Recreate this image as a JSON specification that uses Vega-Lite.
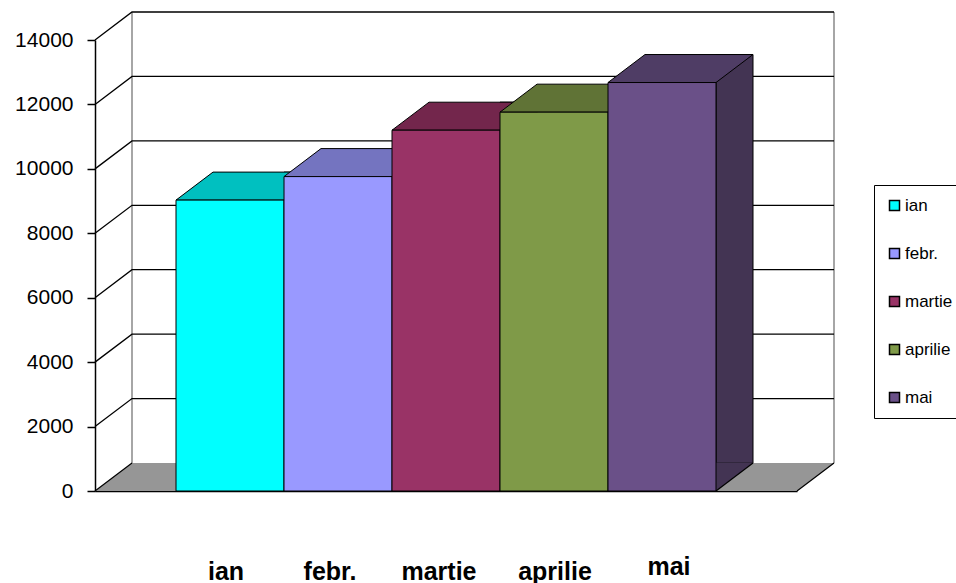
{
  "$schema": "https://vega.github.io/schema/vega-lite/v6.json",
  "width": 702,
  "height": 451,
  "autosize": {"type": "none"},
  "padding": {"left": 95, "top": 40, "right": 159, "bottom": 92},
  "background": "white",
  "config": {
    "view": {"stroke": null},
    "font": "Liberation Sans",
    "axisY": {"title": null, "grid": false, "domainColor": "black", "domainWidth": 1.5, "tickColor": "black", "tickSize": 8, "tickWidth": 1.5, "labelFontSize": 21, "labelColor": "black", "labelPadding": 14},
    "axisX": {"title": null, "grid": false, "domainColor": "black", "domainWidth": 1.5, "ticks": false, "tickSize": 0, "labelFontSize": 25, "labelFontWeight": "bold", "labelFont": "Liberation Sans", "labelColor": "black", "labelAngle": 0}
  },
  "datasets": {
    "months": [
      {"month": "ian", "value": 9030},
      {"month": "febr.", "value": 9760},
      {"month": "martie", "value": 11200},
      {"month": "aprilie", "value": 11760},
      {"month": "mai", "value": 12680}
    ],
    "grid": [
      {"value": 0}, {"value": 2000}, {"value": 4000}, {"value": 6000},
      {"value": 8000}, {"value": 10000}, {"value": 12000}, {"value": 14000}
    ]
  },
  "resolve": {"scale": {"color": "independent"}},
  "layer": [
    {
      "data": {"name": "grid"},
      "transform": [{"filter": "datum.value == 0"}],
      "mark": {"type": "point", "shape": "M-351,0L351,0L388,-28L-314,-28Z", "size": 4, "filled": true, "fill": "#969696", "strokeWidth": 0, "opacity": 1},
      "encoding": {"y": {"field": "value", "type": "quantitative", "scale": {"domain": [0, 14000], "nice": false}, "axis": {"values": [0, 2000, 4000, 6000, 8000, 10000, 12000, 14000], "format": "d"}}}
    },
    {
      "data": {"name": "grid"},
      "transform": [{"filter": "datum.value == 0"}],
      "mark": {"type": "point", "shape": "M-314,-28L-314,-479M388,-28L388,-479", "size": 4, "filled": false, "stroke": "#a6a6a6", "strokeWidth": 2, "opacity": 1},
      "encoding": {"y": {"field": "value", "type": "quantitative", "scale": {"domain": [0, 14000], "nice": false}, "axis": {"values": [0, 2000, 4000, 6000, 8000, 10000, 12000, 14000], "format": "d"}}}
    },
    {
      "data": {"name": "grid"},
      "transform": [{"filter": "datum.value > 0"}],
      "mark": {"type": "point", "shape": "M-351,0L-314,-28L388,-28", "size": 4, "filled": false, "stroke": "black", "strokeWidth": 1.3, "opacity": 1},
      "encoding": {"y": {"field": "value", "type": "quantitative", "scale": {"domain": [0, 14000], "nice": false}, "axis": {"values": [0, 2000, 4000, 6000, 8000, 10000, 12000, 14000], "format": "d"}}}
    },
    {
      "data": {"name": "grid"},
      "transform": [{"filter": "datum.value == 0"}],
      "mark": {"type": "point", "shape": "M-351,0L-314,-28M351,0L388,-28", "size": 4, "filled": false, "stroke": "black", "strokeWidth": 1.2, "opacity": 1},
      "encoding": {"y": {"field": "value", "type": "quantitative", "scale": {"domain": [0, 14000], "nice": false}, "axis": {"values": [0, 2000, 4000, 6000, 8000, 10000, 12000, 14000], "format": "d"}}}
    },
    {
      "data": {"name": "months"},
      "mark": {"type": "bar", "width": 37, "xOffset": 72.5, "yOffset": -28, "y2Offset": -28, "stroke": "black", "strokeWidth": 1},
      "encoding": {
        "x": {"field": "month", "type": "nominal", "sort": null, "scale": {"type": "band", "paddingInner": 0, "paddingOuter": 0.75},
          "axis": {"labelPadding": {"condition": {"test": "datum.value === 'mai'", "value": 63}, "value": 68}, "labelOffset": {"condition": [{"test": "datum.value === 'ian'", "value": -4}, {"test": "datum.value === 'febr.'", "value": -8}, {"test": "datum.value === 'martie'", "value": -7}, {"test": "datum.value === 'aprilie'", "value": 1}, {"test": "datum.value === 'mai'", "value": 7}], "value": 0}}},
        "y": {"field": "value", "type": "quantitative", "scale": {"domain": [0, 14000], "nice": false}, "axis": {"values": [0, 2000, 4000, 6000, 8000, 10000, 12000, 14000], "format": "d"}},
        "color": {"field": "month", "type": "nominal", "legend": null, "scale": {"domain": ["ian", "febr.", "martie", "aprilie", "mai"], "range": ["#00A0A0", "#6060A0", "#602040", "#506030", "#433453"]}}
      }
    },
    {
      "data": {"name": "months"},
      "mark": {"type": "point", "shape": "M54,0L54,-28.6L90.5,-28.6L91,-28Z", "size": 4, "filled": true, "strokeWidth": 0, "opacity": 1},
      "encoding": {
        "x": {"field": "month", "type": "nominal", "sort": null, "scale": {"type": "band", "paddingInner": 0, "paddingOuter": 0.75},
          "axis": {"labelPadding": {"condition": {"test": "datum.value === 'mai'", "value": 63}, "value": 68}, "labelOffset": {"condition": [{"test": "datum.value === 'ian'", "value": -4}, {"test": "datum.value === 'febr.'", "value": -8}, {"test": "datum.value === 'martie'", "value": -7}, {"test": "datum.value === 'aprilie'", "value": 1}, {"test": "datum.value === 'mai'", "value": 7}], "value": 0}}},
        "y": {"datum": 0, "type": "quantitative", "scale": {"domain": [0, 14000], "nice": false}, "axis": {"values": [0, 2000, 4000, 6000, 8000, 10000, 12000, 14000], "format": "d"}},
        "color": {"field": "month", "type": "nominal", "legend": null, "scale": {"domain": ["ian", "febr.", "martie", "aprilie", "mai"], "range": ["#00A0A0", "#6060A0", "#602040", "#506030", "#433453"]}}
      }
    },
    {
      "data": {"name": "months"},
      "mark": {"type": "point", "shape": "M54,0L91,-28", "size": 4, "filled": false, "stroke": "black", "strokeWidth": 1.2, "opacity": 1},
      "encoding": {
        "x": {"field": "month", "type": "nominal", "sort": null, "scale": {"type": "band", "paddingInner": 0, "paddingOuter": 0.75},
          "axis": {"labelPadding": {"condition": {"test": "datum.value === 'mai'", "value": 63}, "value": 68}, "labelOffset": {"condition": [{"test": "datum.value === 'ian'", "value": -4}, {"test": "datum.value === 'febr.'", "value": -8}, {"test": "datum.value === 'martie'", "value": -7}, {"test": "datum.value === 'aprilie'", "value": 1}, {"test": "datum.value === 'mai'", "value": 7}], "value": 0}}},
        "y": {"datum": 0, "type": "quantitative", "scale": {"domain": [0, 14000], "nice": false}, "axis": {"values": [0, 2000, 4000, 6000, 8000, 10000, 12000, 14000], "format": "d"}}
      }
    },
    {
      "data": {"name": "months"},
      "mark": {"type": "point", "shape": "M-54,0L54,0L91,-28L-17,-28Z", "size": 4, "filled": true, "stroke": "black", "strokeWidth": 1, "opacity": 1},
      "encoding": {
        "x": {"field": "month", "type": "nominal", "sort": null, "scale": {"type": "band", "paddingInner": 0, "paddingOuter": 0.75},
          "axis": {"labelPadding": {"condition": {"test": "datum.value === 'mai'", "value": 63}, "value": 68}, "labelOffset": {"condition": [{"test": "datum.value === 'ian'", "value": -4}, {"test": "datum.value === 'febr.'", "value": -8}, {"test": "datum.value === 'martie'", "value": -7}, {"test": "datum.value === 'aprilie'", "value": 1}, {"test": "datum.value === 'mai'", "value": 7}], "value": 0}}},
        "y": {"field": "value", "type": "quantitative", "scale": {"domain": [0, 14000], "nice": false}, "axis": {"values": [0, 2000, 4000, 6000, 8000, 10000, 12000, 14000], "format": "d"}},
        "color": {"field": "month", "type": "nominal", "legend": null, "scale": {"domain": ["ian", "febr.", "martie", "aprilie", "mai"], "range": ["#00C0C0", "#7474C0", "#73264C", "#607336", "#4F3D65"]}}
      }
    },
    {
      "data": {"name": "months"},
      "mark": {"type": "bar", "stroke": "black", "strokeWidth": 1},
      "encoding": {
        "x": {"field": "month", "type": "nominal", "sort": null, "scale": {"type": "band", "paddingInner": 0, "paddingOuter": 0.75},
          "axis": {"labelPadding": {"condition": {"test": "datum.value === 'mai'", "value": 63}, "value": 68}, "labelOffset": {"condition": [{"test": "datum.value === 'ian'", "value": -4}, {"test": "datum.value === 'febr.'", "value": -8}, {"test": "datum.value === 'martie'", "value": -7}, {"test": "datum.value === 'aprilie'", "value": 1}, {"test": "datum.value === 'mai'", "value": 7}], "value": 0}}},
        "y": {"field": "value", "type": "quantitative", "scale": {"domain": [0, 14000], "nice": false}, "axis": {"values": [0, 2000, 4000, 6000, 8000, 10000, 12000, 14000], "format": "d"}},
        "color": {"field": "month", "type": "nominal", "scale": {"domain": ["ian", "febr.", "martie", "aprilie", "mai"], "range": ["#00FFFF", "#9999FF", "#993366", "#7F9A48", "#6A5088"]},
          "legend": {"orient": "none", "legendX": 779, "legendY": 145, "title": null, "padding": 12, "rowPadding": 30, "strokeColor": "black", "fillColor": "white", "cornerRadius": 0, "symbolType": "square", "symbolSize": 100, "symbolStrokeColor": "black", "symbolStrokeWidth": 1.5, "labelFontSize": 17, "labelOffset": 2, "labelColor": "black"}}
      }
    }
  ]
}
